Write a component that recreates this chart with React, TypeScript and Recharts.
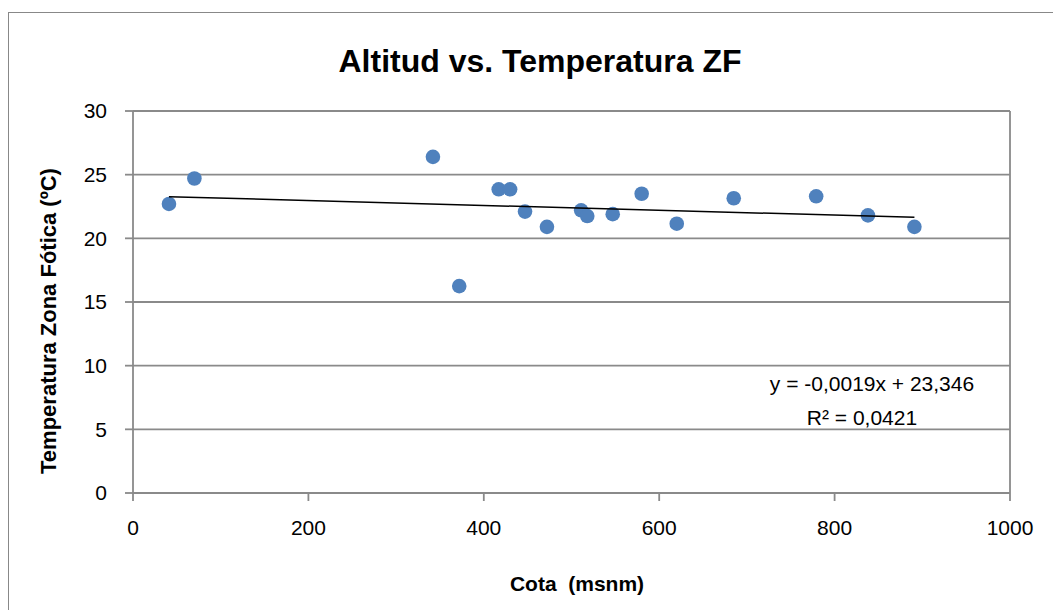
import React from 'react';
import {
  ComposedChart,
  Scatter,
  XAxis,
  YAxis,
  CartesianGrid,
  ReferenceLine,
} from 'recharts';

// Cota (msnm) and temperature of the photic zone (ºC)
const cota = [41, 70, 342, 372, 417, 430, 447, 472, 511, 518, 547, 580, 620, 685, 779, 838, 891];
const temperatura = [22.7, 24.7, 26.4, 16.25, 23.85, 23.85, 22.1, 20.9, 22.2, 21.75, 21.9, 23.5, 21.15, 23.15, 23.3, 21.8, 20.9];

// linear trendline end points (y = -0,0019x + 23,346)
const trendX = [41, 891];
const trendY = [23.27, 21.65];

const xTicks = [0, 200, 400, 600, 800, 1000];
const yTicks = [0, 5, 10, 15, 20, 25, 30];

const points = cota.map((x, i) => ({ x, y: temperatura[i] }));
const trend = trendX.map((x, i) => ({ x, y: trendY[i] }));

const FONT = '"Liberation Sans", Arial, sans-serif';
const GRID = '#8a8a8a';

const noDot = () => <g />;

export default function App() {
  return (
    <div style={{ position: 'absolute', left: 0, top: 0, width: 1053, height: 610, overflow: 'hidden', background: '#fff', fontFamily: FONT }}>
      <div style={{ position: 'absolute', left: 8, top: 12, width: 1100, height: 700, border: '1px solid #888' }} />
      <ComposedChart
        width={1053}
        height={610}
        margin={{ top: 111, right: 43, bottom: 67, left: 53 }}
        style={{ position: 'absolute', left: 0, top: 0 }}
      >
        <CartesianGrid horizontal vertical={false} stroke={GRID} strokeWidth={1.8} />
        <ReferenceLine x={1000} stroke={GRID} strokeWidth={1.8} />
        <XAxis
          type="number"
          dataKey="x"
          domain={[0, 1000]}
          ticks={xTicks}
          height={50}
          stroke={GRID}
          strokeWidth={1.8}
          tickSize={8}
          tickMargin={19}
          tick={{ fill: '#000', fontSize: 21, fontFamily: FONT }}
        />
        <YAxis
          type="number"
          dataKey="y"
          domain={[0, 30]}
          ticks={yTicks}
          width={80}
          stroke={GRID}
          strokeWidth={1.8}
          tickSize={8}
          tickMargin={18}
          tick={{ fill: '#000', fontSize: 21, fontFamily: FONT }}
        />
        <Scatter
          data={points}
          fill="#4f81bd"
          shape={(p: any) => <circle cx={p.cx} cy={p.cy} r={7.3} fill="#4f81bd" />}
          isAnimationActive={false}
        />
        <Scatter
          data={trend}
          line={{ stroke: '#000', strokeWidth: 1.5 }}
          shape={noDot}
          isAnimationActive={false}
        />
      </ComposedChart>
      <svg width={1053} height={610} style={{ position: 'absolute', left: 0, top: 0, pointerEvents: 'none' }}>
        <text x={540} y={72} textAnchor="middle" fontSize={32} fontWeight="bold" fontFamily={FONT} fill="#000">
          Altitud vs. Temperatura ZF
        </text>
        <text
          x={0}
          y={0}
          transform="translate(56,321) rotate(-90)"
          textAnchor="middle"
          fontSize={22}
          fontWeight="bold"
          fontFamily={FONT}
          fill="#000"
        >
          Temperatura Zona Fótica (ºC)
        </text>
        <text x={577} y={591} textAnchor="middle" fontSize={21} fontWeight="bold" fontFamily={FONT} fill="#000" style={{ whiteSpace: 'pre' }}>
          Cota  (msnm)
        </text>
        <text x={872} y={391} textAnchor="middle" fontSize={21} fontFamily={FONT} fill="#000">
          y = -0,0019x + 23,346
        </text>
        <text x={862} y={425} textAnchor="middle" fontSize={21} fontFamily={FONT} fill="#000">
          R² = 0,0421
        </text>
      </svg>
    </div>
  );
}
